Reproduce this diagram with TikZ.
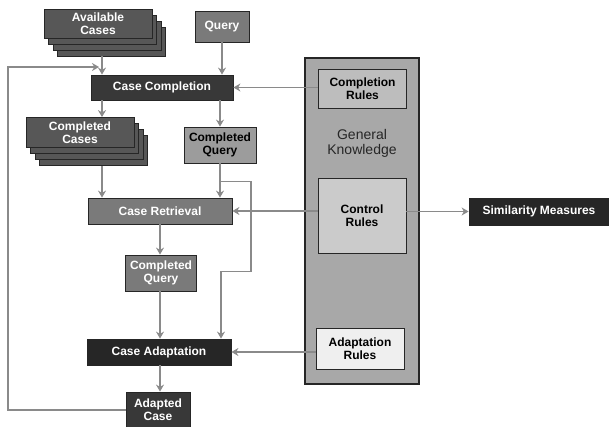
\documentclass[tikz,border=0pt]{standalone}
\usepackage{fontspec}
\setmainfont{Liberation Sans}
\usetikzlibrary{arrows.meta,shadows}

\definecolor{boxblack}{HTML}{262626}
\definecolor{boxdark}{HTML}{383838}
\definecolor{boxmid}{HTML}{575757}
\definecolor{boxgray}{HTML}{7A7A7A}
\definecolor{boxlight}{HTML}{9C9C9C}
\definecolor{gkfill}{HTML}{A8A8A8}
\definecolor{rulefill}{HTML}{BDBDBD}
\definecolor{ctrlfill}{HTML}{CBCBCB}
\definecolor{adapfill}{HTML}{EFEFEF}
\definecolor{arrowgray}{HTML}{8A8A8A}

\begin{document}
\begin{tikzpicture}[
            x = 1pt, y = -1pt, % pixel grid of the figure
            box/.style = {draw=black!85, line width=0.8pt, inner sep=1pt,
                          align=center, text=white,
                          font=\bfseries\fontsize{12}{13}\selectfont},
            stack/.style = {box,
                            copy shadow={shadow xshift=13.5pt, shadow yshift=-18pt},
                            copy shadow={shadow xshift=9pt, shadow yshift=-12pt},
                            copy shadow={shadow xshift=4.5pt, shadow yshift=-6pt}},
            arr/.style = {draw=arrowgray, line width=1.6pt,
                          -{Stealth[length=7pt,width=8pt]}} % connector style
        ]

	\useasboundingbox (0,0) rectangle (609,427);

	% lanes of the vertical arrows
	\coordinate (laneA) at (102,0);
	\coordinate (laneC) at (160,0);
	\coordinate (fb) at (8,67);

	% knowledge container
	\node[box, fill=gkfill, line width=1.5pt, minimum width=114, minimum height=326] (gk) at (362,221) {};
	\node[text=boxblack, align=center, font=\fontsize{14}{15}\selectfont] (gklabel) at (362,143) {General\\Knowledge};
	\node[box, fill=rulefill, text=black, minimum width=88, minimum height=39] (comprules) at (362.5,88.5) {Completion\\Rules};
	\node[box, fill=ctrlfill, text=black, minimum width=88, minimum height=75] (ctrlrules) at (362,215.5) {Control\\Rules};
	\node[box, fill=adapfill, text=black, minimum width=88, minimum height=41] (adaprules) at (360,349) {Adaptation\\Rules};
	\node[box, fill=boxblack, minimum width=140, minimum height=27] (sim) at (539,211.5) {Similarity Measures};

	% process chain
	\node[stack, fill=boxmid, minimum width=108, minimum height=29] (avail) at (98,23.5) {Available\\Cases};
	\node[box, fill=boxgray, minimum width=54, minimum height=31] (query) at (222,26.5) {Query};
	\node[box, fill=boxdark, minimum width=142, minimum height=25] (cc) at (162,87.5) {Case Completion};
	\node[stack, fill=boxmid, minimum width=108, minimum height=30] (ccases) at (80,132.5) {Completed\\Cases};
	\node[box, fill=boxlight, text=black, minimum width=72, minimum height=36] (cq1) at (220,145) {Completed\\Query};
	\node[box, fill=boxgray, minimum width=144, minimum height=26] (cr) at (160,211) {Case Retrieval};
	\node[box, fill=boxgray, minimum width=71, minimum height=36] (cq2) at (161,273) {Completed\\Query};
	\node[box, fill=boxblack, minimum width=144, minimum height=26] (ca) at (159,352) {Case Adaptation};
	\node[box, fill=boxdark, minimum width=64, minimum height=36] (adapted) at (158,410) {Adapted\\Case};

	\draw[arr] ([yshift=-18pt]avail.south -| laneA) -- (cc.north -| laneA);
	\draw[arr] (query.south) -- (cc.north -| query.south);
	\draw[arr] (adapted.west) -| (fb) -- ([xshift=-3pt]fb -| laneA);
	\draw[arr] (cc.south -| laneA) -- (ccases.north -| laneA);
	\draw[arr] (cc.south -| cq1.north) -- (cq1.north);
	\draw[arr] ([yshift=-18pt]ccases.south -| laneA) -- (cr.north -| laneA);
	\draw[arr] (cq1.south) -- (cr.north -| cq1.south);
	\draw[arr] ([yshift=-18pt]cq1.south) -- ++(31,0) -- ++(0,90) -| ([xshift=1pt]ca.north -| cq1.south);
	\draw[arr] (cr.south -| laneC) -- (cq2.north -| laneC);
	\draw[arr] (cq2.south -| laneC) -- (ca.north -| laneC);
	\draw[arr] (ca.south -| laneC) -- (adapted.north -| laneC);

	\draw[arr] (comprules.west |- cc.east) -- (cc.east);
	\draw[arr] (ctrlrules.west |- cr.east) -- (cr.east);
	\draw[arr] (adaprules.west |- ca.east) -- (ca.east);
	\draw[arr] (ctrlrules.east |- sim.west) -- (sim.west);

\end{tikzpicture}
\end{document}
